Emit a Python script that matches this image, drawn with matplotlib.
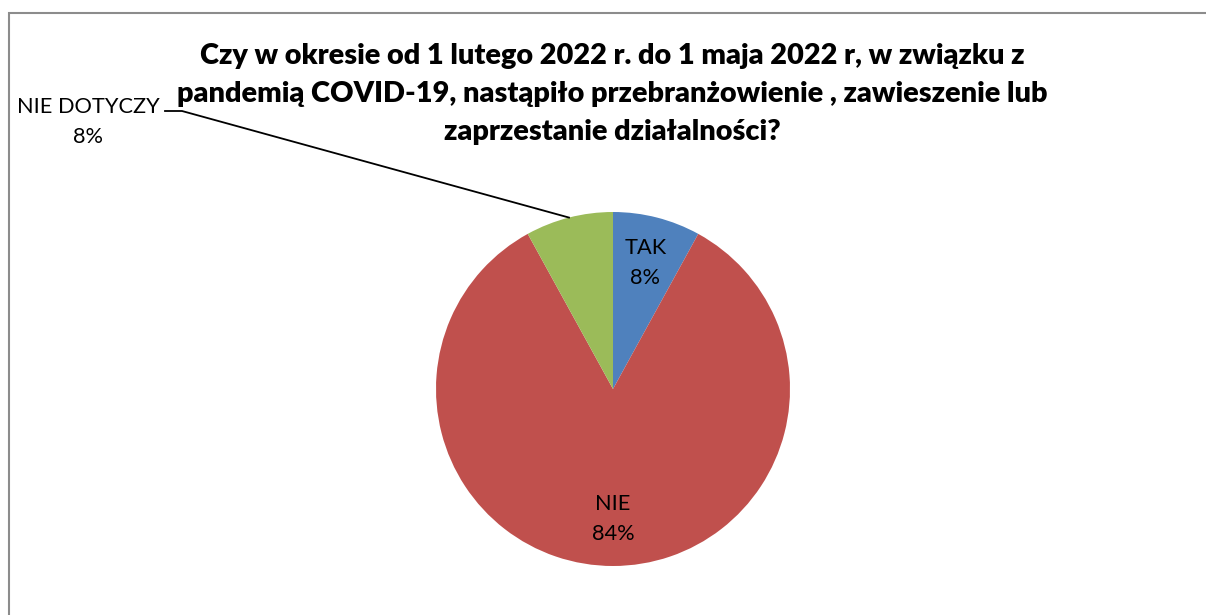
import numpy as np
import matplotlib
matplotlib.use("Agg")
import matplotlib.pyplot as plt
from matplotlib.patches import Rectangle

plt.rcParams['font.family'] = ['Lato', 'DejaVu Sans']

title = ("Czy w okresie od 1 lutego 2022 r. do 1 maja 2022 r, w związku z\n"
         "pandemią COVID-19, nastąpiło przebranżowienie , zawieszenie lub\n"
         "zaprzestanie działalności?")
categories = ["TAK", "NIE", "NIE DOTYCZY"]
shares = [8, 84, 8]
colors = ["#4F81BD", "#C0504D", "#9BBB59"]

W, H = 1206, 615
fig = plt.figure(figsize=(W / 100, H / 100), dpi=100)
ax = fig.add_axes([0, 0, 1, 1])

# chart frame (runs past the right and bottom edges)
ax.add_patch(Rectangle((8.5, -20), W + 40, H - 12.5 + 20, fill=False,
                       edgecolor='#8c8c8c', linewidth=1.5))

cx, cy, R = 613, H - 389, 177
wedges, _ = ax.pie(shares, colors=colors, startangle=90, counterclock=False,
                   center=(cx, cy), radius=R, frame=True,
                   wedgeprops=dict(linewidth=0))
ax.set_xlim(0, W)
ax.set_ylim(0, H)
ax.set_aspect('equal')
ax.axis('off')

fig.text(612 / W, 1 - 94 / H, title, ha='center', va='center',
         fontsize=20.8, fontweight='heavy', linespacing=1.57)

total = sum(shares)
lab_kw = dict(ha='center', va='center', fontsize=15.7, linespacing=1.6)
for w, cat, val in zip(wedges, categories, shares):
    mid = np.deg2rad((w.theta1 + w.theta2) / 2)
    pct = f"{round(val / total * 100)}%"
    if cat == "NIE DOTYCZY":
        ex, ey = cx + R * np.cos(mid), cy + R * np.sin(mid)
        ax.plot([ex, 182, 165], [ey, H - 111, H - 111], color='black', lw=1.3)
        ax.text(88, H - 122, f"{cat}\n{pct}", **lab_kw)
    else:
        r = 0.735 * R
        ax.text(cx + r * np.cos(mid), cy + r * np.sin(mid), f"{cat}\n{pct}",
                **lab_kw)

fig.savefig("out.png", dpi=100, facecolor='white')
